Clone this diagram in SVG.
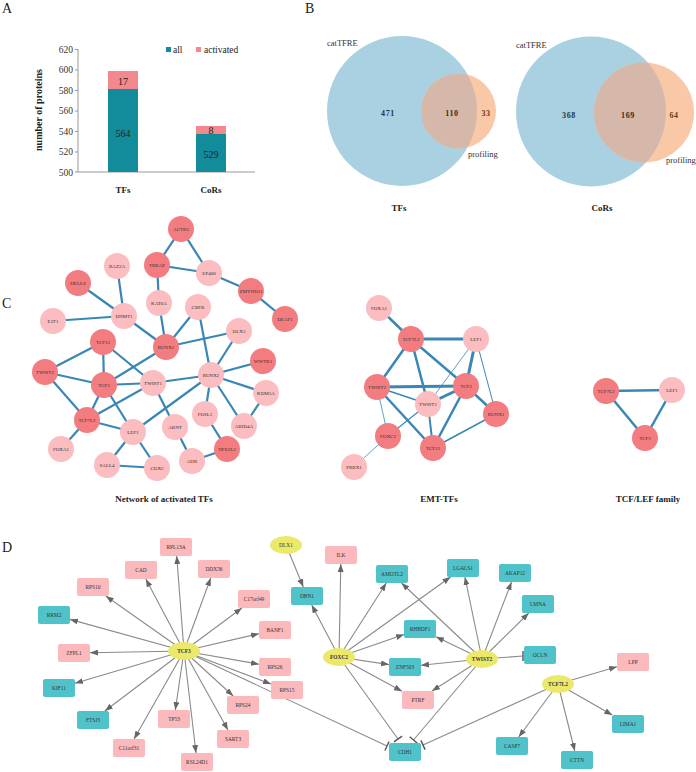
<svg xmlns="http://www.w3.org/2000/svg" width="696" height="772" viewBox="0 0 696 772">
<style>
text{font-family:"Liberation Serif","Times New Roman",serif;}
.pl{font-size:14px;fill:#222}
.tk{font-size:9.5px;fill:#333;text-anchor:end}
.bl{font-size:10px;fill:#222;text-anchor:middle}
.ttl{font-size:9px;font-weight:bold;fill:#222;text-anchor:middle}
.vn{font-size:8px;font-weight:bold;text-anchor:middle;letter-spacing:0.6px}
.vl{font-size:8.5px;fill:#333}
.ax{stroke:#999;stroke-width:1;fill:none}
.ce line{stroke:#3a87b7;stroke-linecap:round}
.nd{fill:#f27c80}
.nl{fill:#fbbdbf}
.cn text{font-size:5px;fill:#333;text-anchor:middle}
.dn text{font-size:5.4px;fill:#333;text-anchor:middle}
.dn .b{font-weight:bold}
.de line{stroke:#8a8a8a;stroke-width:1.1}
.de .a{marker-end:url(#arr)}
.de .t{stroke:#555;stroke-width:1.4}
.teal{fill:#50c3ca}
.pink{fill:#fcb9bc}
.yel{fill:#ece86c}
</style>
<defs>
<marker id="arr" viewBox="0 0 8 6" refX="8" refY="3" markerWidth="8" markerHeight="6" markerUnits="userSpaceOnUse" orient="auto">
<path d="M0,0 L8,3 L0,6 z" fill="#666"/>
</marker>
<clipPath id="cb1"><circle cx="402" cy="111" r="75"/></clipPath>
<clipPath id="cb2"><circle cx="591" cy="111.5" r="75"/></clipPath>
</defs>

<!-- Panel A -->
<g id="panelA">
<text class="pl" x="2" y="13">A</text>
<line class="ax" x1="78" y1="49" x2="78" y2="172"/>
<line class="ax" x1="78" y1="172" x2="255" y2="172"/>
<g class="ax">
<line x1="75" y1="49.5" x2="78" y2="49.5"/><line x1="75" y1="70" x2="78" y2="70"/><line x1="75" y1="90.5" x2="78" y2="90.5"/><line x1="75" y1="111" x2="78" y2="111"/><line x1="75" y1="131.5" x2="78" y2="131.5"/><line x1="75" y1="152" x2="78" y2="152"/><line x1="75" y1="172" x2="78" y2="172"/>
</g>
<text class="tk" x="73" y="53">620</text>
<text class="tk" x="73" y="73">600</text>
<text class="tk" x="73" y="94">580</text>
<text class="tk" x="73" y="114">560</text>
<text class="tk" x="73" y="135">540</text>
<text class="tk" x="73" y="155">520</text>
<text class="tk" x="73" y="175.5">500</text>
<text x="42" y="110" transform="rotate(-90 42 110)" style="font-size:10px;font-weight:bold;fill:#222;text-anchor:middle">number of proteins</text>
<rect x="108" y="89" width="30" height="83" fill="#128b9b"/>
<rect x="108" y="71" width="30" height="18" fill="#f4888f"/>
<rect x="196" y="134" width="30" height="38" fill="#128b9b"/>
<rect x="196" y="126" width="30" height="8" fill="#f4888f"/>
<text class="bl" x="123" y="85">17</text>
<text class="bl" x="123" y="137">564</text>
<text class="bl" x="211" y="134">8</text>
<text class="bl" x="211" y="158">529</text>
<rect x="166" y="47" width="5" height="5" fill="#128b9b"/>
<text x="173" y="53" style="font-size:9.5px;fill:#222">all</text>
<rect x="196" y="47" width="5" height="5" fill="#f4888f"/>
<text x="204" y="53" style="font-size:9.5px;fill:#222">activated</text>
<text class="ttl" x="123" y="193">TFs</text>
<text class="ttl" x="211" y="193">CoRs</text>
</g>

<!-- Panel B -->
<g id="panelB">
<text class="pl" x="305" y="13">B</text>
<circle cx="402" cy="111" r="75" fill="#a9d1e1"/>
<circle cx="458.5" cy="111" r="37.5" fill="#f9c8a7"/>
<circle cx="458.5" cy="111" r="37.5" fill="#d5b8aa" clip-path="url(#cb1)"/>
<text class="vl" x="327" y="46">catTFRE</text>
<text class="vn" x="388" y="116" fill="#243646">471</text>
<text class="vn" x="452" y="116" fill="#3a2a22">110</text>
<text class="vn" x="486" y="116" fill="#6b3a1a">33</text>
<text class="vl" x="468" y="157">profiling</text>
<text class="ttl" x="399" y="211">TFs</text>
<circle cx="591" cy="111.5" r="75" fill="#a9d1e1"/>
<circle cx="644" cy="112.5" r="50" fill="#f9c8a7"/>
<circle cx="644" cy="112.5" r="50" fill="#d5b8aa" clip-path="url(#cb2)"/>
<text class="vl" x="516" y="48">catTFRE</text>
<text class="vn" x="569" y="118" fill="#243646">368</text>
<text class="vn" x="628" y="118" fill="#3a2a22">169</text>
<text class="vn" x="674" y="118" fill="#6b3a1a">64</text>
<text class="vl" x="666" y="163">profiling</text>
<text class="ttl" x="602" y="211">CoRs</text>
</g>

<!-- Panel C -->
<text class="pl" x="2" y="308">C</text>
<g id="c-connectors" class="ce">
<g stroke-width="2.2">
<line x1="181" y1="229" x2="157" y2="265"/>
<line x1="181" y1="229" x2="209" y2="273"/>
<line x1="157" y1="265" x2="209" y2="273"/>
<line x1="157" y1="265" x2="159" y2="303"/>
<line x1="209" y1="273" x2="251" y2="291"/>
<line x1="251" y1="291" x2="285" y2="319"/>
<line x1="78" y1="283" x2="124" y2="316"/>
<line x1="117" y1="266" x2="124" y2="316"/>
<line x1="53" y1="321" x2="124" y2="316"/>
<line x1="124" y1="316" x2="166" y2="347"/>
<line x1="159" y1="303" x2="166" y2="347"/>
<line x1="198" y1="307" x2="166" y2="347"/>
<line x1="198" y1="307" x2="211" y2="375"/>
<line x1="239" y1="331" x2="166" y2="347"/>
<line x1="239" y1="331" x2="211" y2="375"/>
<line x1="263" y1="361" x2="211" y2="375"/>
<line x1="266" y1="393" x2="211" y2="375"/>
<line x1="266" y1="393" x2="244" y2="426"/>
<line x1="211" y1="375" x2="244" y2="426"/>
<line x1="211" y1="375" x2="205" y2="414"/>
<line x1="211" y1="375" x2="153" y2="383"/>
<line x1="211" y1="375" x2="133" y2="432"/>
<line x1="205" y1="414" x2="227" y2="449"/>
<line x1="227" y1="449" x2="192" y2="461"/>
<line x1="192" y1="461" x2="175" y2="427"/>
<line x1="175" y1="427" x2="153" y2="383"/>
<line x1="103" y1="342" x2="45" y2="372"/>
<line x1="103" y1="342" x2="104" y2="385"/>
<line x1="103" y1="342" x2="153" y2="383"/>
<line x1="45" y1="372" x2="104" y2="385"/>
<line x1="45" y1="372" x2="87" y2="420"/>
<line x1="104" y1="385" x2="153" y2="383"/>
<line x1="104" y1="385" x2="166" y2="347"/>
<line x1="104" y1="385" x2="87" y2="420"/>
<line x1="104" y1="385" x2="133" y2="432"/>
<line x1="87" y1="420" x2="153" y2="383"/>
<line x1="87" y1="420" x2="133" y2="432"/>
<line x1="87" y1="420" x2="61" y2="449"/>
<line x1="133" y1="432" x2="107" y2="465"/>
<line x1="133" y1="432" x2="157" y2="468"/>
<line x1="107" y1="465" x2="157" y2="468"/>
</g>
<line x1="379" y1="308" x2="411" y2="339" stroke-width="2.5"/>
<line x1="411" y1="339" x2="476" y2="339" stroke-width="3"/>
<line x1="411" y1="339" x2="377" y2="387" stroke-width="2.5"/>
<line x1="411" y1="339" x2="428" y2="404" stroke-width="2.5"/>
<line x1="411" y1="339" x2="466" y2="386" stroke-width="2.5"/>
<line x1="476" y1="339" x2="466" y2="386" stroke-width="3"/>
<line x1="476" y1="339" x2="428" y2="404" stroke-width="0.8"/>
<line x1="476" y1="339" x2="496" y2="414" stroke-width="1"/>
<line x1="377" y1="387" x2="466" y2="386" stroke-width="3"/>
<line x1="377" y1="387" x2="428" y2="404" stroke-width="1.5"/>
<line x1="377" y1="387" x2="388" y2="436" stroke-width="0.8"/>
<line x1="377" y1="387" x2="433" y2="448" stroke-width="2.5"/>
<line x1="466" y1="386" x2="428" y2="404" stroke-width="3"/>
<line x1="466" y1="386" x2="496" y2="414" stroke-width="2.5"/>
<line x1="466" y1="386" x2="433" y2="448" stroke-width="2.5"/>
<line x1="428" y1="404" x2="433" y2="448" stroke-width="2"/>
<line x1="428" y1="404" x2="388" y2="436" stroke-width="1.2"/>
<line x1="496" y1="414" x2="433" y2="448" stroke-width="1.5"/>
<line x1="388" y1="436" x2="354" y2="467" stroke-width="0.8"/>
<line x1="606" y1="391" x2="672" y2="390" stroke-width="2.5"/>
<line x1="606" y1="391" x2="645" y2="438" stroke-width="2.5"/>
<line x1="672" y1="390" x2="645" y2="438" stroke-width="2.5"/>
</g>

<g class="cn">
<g id="n-ACTR5"><circle class="nd" cx="181" cy="229" r="13"/><text x="181" y="230.8">ACTR5</text></g>
<g id="n-TRRAP"><circle class="nd" cx="157" cy="265" r="13"/><text x="157" y="266.8">TRRAP</text></g>
<g id="n-HELLS"><circle class="nd" cx="78" cy="283" r="13"/><text x="78" y="284.8">HELLS</text></g>
<g id="n-ZMYND11"><circle class="nd" cx="251" cy="291" r="13"/><text x="251" y="292.8">ZMYND11</text></g>
<g id="n-DEAF1"><circle class="nd" cx="285" cy="319" r="13"/><text x="285" y="320.8">DEAF1</text></g>
<g id="n-RUNX1"><circle class="nd" cx="166" cy="347" r="13"/><text x="166" y="348.8">RUNX1</text></g>
<g id="n-TCF12"><circle class="nd" cx="103" cy="342" r="13"/><text x="103" y="343.8">TCF12</text></g>
<g id="n-TWIST2"><circle class="nd" cx="45" cy="372" r="13"/><text x="45" y="373.8">TWIST2</text></g>
<g id="n-TCF3"><circle class="nd" cx="104" cy="385" r="13"/><text x="104" y="386.8">TCF3</text></g>
<g id="n-WWTR1"><circle class="nd" cx="263" cy="361" r="13"/><text x="263" y="362.8">WWTR1</text></g>
<g id="n-TCF7L2"><circle class="nd" cx="87" cy="420" r="13"/><text x="87" y="421.8">TCF7L2</text></g>
<g id="n-NFE2L2"><circle class="nd" cx="227" cy="449" r="13"/><text x="227" y="450.8">NFE2L2</text></g>
<g id="n-BAZ2A"><circle class="nl" cx="117" cy="266" r="13"/><text x="117" y="267.8">BAZ2A</text></g>
<g id="n-EP400"><circle class="nl" cx="209" cy="273" r="13"/><text x="209" y="274.8">EP400</text></g>
<g id="n-KAT6A"><circle class="nl" cx="159" cy="303" r="13"/><text x="159" y="304.8">KAT6A</text></g>
<g id="n-DNMT1"><circle class="nl" cx="124" cy="316" r="13"/><text x="124" y="317.8">DNMT1</text></g>
<g id="n-E2F1"><circle class="nl" cx="53" cy="321" r="13"/><text x="53" y="322.8">E2F1</text></g>
<g id="n-CBFB"><circle class="nl" cx="198" cy="307" r="13"/><text x="198" y="308.8">CBFB</text></g>
<g id="n-DLX5"><circle class="nl" cx="239" cy="331" r="13"/><text x="239" y="332.8">DLX5</text></g>
<g id="n-TWIST1"><circle class="nl" cx="153" cy="383" r="13"/><text x="153" y="384.8">TWIST1</text></g>
<g id="n-RUNX2"><circle class="nl" cx="211" cy="375" r="13"/><text x="211" y="376.8">RUNX2</text></g>
<g id="n-KDM5A"><circle class="nl" cx="266" cy="393" r="13"/><text x="266" y="394.8">KDM5A</text></g>
<g id="n-FOSL1"><circle class="nl" cx="205" cy="414" r="13"/><text x="205" y="415.8">FOSL1</text></g>
<g id="n-ARID4A"><circle class="nl" cx="244" cy="426" r="13"/><text x="244" y="427.8">ARID4A</text></g>
<g id="n-ARNT"><circle class="nl" cx="175" cy="427" r="13"/><text x="175" y="428.8">ARNT</text></g>
<g id="n-LEF1"><circle class="nl" cx="133" cy="432" r="13"/><text x="133" y="433.8">LEF1</text></g>
<g id="n-FOXA1"><circle class="nl" cx="61" cy="449" r="13"/><text x="61" y="450.8">FOXA1</text></g>
<g id="n-AHR"><circle class="nl" cx="192" cy="461" r="13"/><text x="192" y="462.8">AHR</text></g>
<g id="n-SALL4"><circle class="nl" cx="107" cy="465" r="13"/><text x="107" y="466.8">SALL4</text></g>
<g id="n-CDX2"><circle class="nl" cx="157" cy="468" r="13"/><text x="157" y="469.8">CDX2</text></g>

<g id="m-FOXA1"><circle class="nl" cx="379" cy="308" r="13"/><text x="379" y="309.8">FOXA1</text></g>
<g id="m-TCF7L2"><circle class="nd" cx="411" cy="339" r="13"/><text x="411" y="340.8">TCF7L2</text></g>
<g id="m-LEF1"><circle class="nl" cx="476" cy="339" r="13"/><text x="476" y="340.8">LEF1</text></g>
<g id="m-TWIST2"><circle class="nd" cx="377" cy="387" r="13"/><text x="377" y="388.8">TWIST2</text></g>
<g id="m-TCF3"><circle class="nd" cx="466" cy="386" r="13"/><text x="466" y="387.8">TCF3</text></g>
<g id="m-TWIST1"><circle class="nl" cx="428" cy="404" r="13"/><text x="428" y="405.8">TWIST1</text></g>
<g id="m-RUNX1"><circle class="nd" cx="496" cy="414" r="13"/><text x="496" y="415.8">RUNX1</text></g>
<g id="m-FOXC2"><circle class="nd" cx="388" cy="436" r="13"/><text x="388" y="437.8">FOXC2</text></g>
<g id="m-TCF12"><circle class="nd" cx="433" cy="448" r="13"/><text x="433" y="449.8">TCF12</text></g>
<g id="m-PRRX1"><circle class="nl" cx="354" cy="467" r="13"/><text x="354" y="468.8">PRRX1</text></g>

<g id="r-TCF7L2"><circle class="nd" cx="606" cy="391" r="13"/><text x="606" y="392.8">TCF7L2</text></g>
<g id="r-LEF1"><circle class="nl" cx="672" cy="390" r="13"/><text x="672" y="391.8">LEF1</text></g>
<g id="r-TCF3"><circle class="nd" cx="645" cy="438" r="13"/><text x="645" y="439.8">TCF3</text></g>
</g>
<text class="ttl" x="164" y="502">Network of activated TFs</text>
<text class="ttl" x="439" y="502">EMT-TFs</text>
<text class="ttl" x="648" y="502">TCF/LEF family</text>

<!-- Panel D -->
<text class="pl" x="2" y="552">D</text>
<g id="d-connectors" class="de">
<line class="a" x1="184" y1="651" x2="176.7" y2="556"/>
<line class="a" x1="184" y1="651" x2="145.8" y2="579"/>
<line class="a" x1="184" y1="651" x2="210.7" y2="578"/>
<line class="a" x1="184" y1="651" x2="105.8" y2="596"/>
<line class="a" x1="184" y1="651" x2="241.9" y2="608"/>
<line class="a" x1="184" y1="651" x2="70" y2="619.4"/>
<line class="a" x1="184" y1="651" x2="90" y2="652.7"/>
<line class="a" x1="184" y1="651" x2="75" y2="683.3"/>
<line class="a" x1="184" y1="651" x2="104.9" y2="711"/>
<line class="a" x1="184" y1="651" x2="134.1" y2="739"/>
<line class="a" x1="184" y1="651" x2="175.3" y2="710"/>
<line class="a" x1="184" y1="651" x2="196" y2="753"/>
<line class="a" x1="184" y1="651" x2="228" y2="730"/>
<line class="a" x1="184" y1="651" x2="233.2" y2="696"/>
<line class="a" x1="184" y1="651" x2="271" y2="684"/>
<line class="a" x1="184" y1="651" x2="259" y2="664.2"/>
<line class="a" x1="184" y1="651" x2="259" y2="633.7"/>
<line x1="184" y1="651" x2="387" y2="746"/>
<line class="t" x1="384.9" y1="750.5" x2="389.1" y2="741.5"/>
<line class="a" x1="286" y1="545" x2="303.3" y2="587"/>
<line class="a" x1="339" y1="657" x2="311.7" y2="605"/>
<line class="a" x1="339" y1="657" x2="340.8" y2="564"/>
<line class="a" x1="339" y1="657" x2="386.3" y2="583"/>
<line class="a" x1="339" y1="657" x2="450.5" y2="577"/>
<line class="a" x1="339" y1="657" x2="404" y2="634.5"/>
<line class="a" x1="339" y1="657" x2="389" y2="664.6"/>
<line class="a" x1="339" y1="657" x2="402" y2="691.3"/>
<line x1="339" y1="657" x2="398" y2="739"/>
<line class="t" x1="393.9" y1="741.9" x2="402.1" y2="736.1"/>
<line class="a" x1="482" y1="659" x2="401.5" y2="583"/>
<line class="a" x1="482" y1="659" x2="464.9" y2="577"/>
<line class="a" x1="482" y1="659" x2="511.5" y2="582"/>
<line class="a" x1="482" y1="659" x2="528.8" y2="613"/>
<line class="a" x1="482" y1="659" x2="436" y2="636.7"/>
<line class="a" x1="482" y1="659" x2="421" y2="665.3"/>
<line class="a" x1="482" y1="659" x2="432" y2="691"/>
<line x1="482" y1="659" x2="523" y2="656"/>
<line class="t" x1="523" y1="651" x2="523" y2="661"/>
<line x1="482" y1="659" x2="413.5" y2="740"/>
<line class="t" x1="409.7" y1="736.8" x2="417.3" y2="743.2"/>
<line class="a" x1="558" y1="684" x2="617" y2="666.7"/>
<line class="a" x1="558" y1="684" x2="612.3" y2="715"/>
<line class="a" x1="558" y1="684" x2="574.8" y2="751"/>
<line class="a" x1="558" y1="684" x2="518.7" y2="737"/>
<line x1="558" y1="684" x2="423" y2="745"/>
<line class="t" x1="420.9" y1="740.4" x2="425.1" y2="749.6"/>
</g>

<g class="dn">
<g id="d-RPL13A"><rect class="pink" x="160" y="538" width="32" height="18" rx="2"/><text x="176" y="549">RPL13A</text></g>
<g id="d-CAD"><rect class="pink" x="125" y="561" width="32" height="18" rx="2"/><text x="141" y="572">CAD</text></g>
<g id="d-DDX56"><rect class="pink" x="198" y="560" width="32" height="18" rx="2"/><text x="214" y="571">DDX56</text></g>
<g id="d-RPS10"><rect class="pink" x="77" y="578" width="32" height="18" rx="2"/><text x="93" y="589">RPS10</text></g>
<g id="d-C17orf49"><rect class="pink" x="238" y="590" width="32" height="18" rx="2"/><text x="254" y="601">C17orf49</text></g>
<g id="d-RRM2"><rect class="teal" x="38" y="606" width="32" height="18" rx="2"/><text x="54" y="617">RRM2</text></g>
<g id="d-ZFPL1"><rect class="pink" x="58" y="644" width="32" height="18" rx="2"/><text x="74" y="655">ZFPL1</text></g>
<g id="d-KIF11"><rect class="teal" x="43" y="679" width="32" height="18" rx="2"/><text x="59" y="690">KIF11</text></g>
<g id="d-FTSJ3"><rect class="teal" x="77" y="711" width="32" height="18" rx="2"/><text x="93" y="722">FTSJ3</text></g>
<g id="d-C11orf31"><rect class="pink" x="113" y="739" width="32" height="18" rx="2"/><text x="129" y="750">C11orf31</text></g>
<g id="d-TP53"><rect class="pink" x="158" y="710" width="32" height="18" rx="2"/><text x="174" y="721">TP53</text></g>
<g id="d-RSL24D1"><rect class="pink" x="181" y="753" width="32" height="18" rx="2"/><text x="197" y="764">RSL24D1</text></g>
<g id="d-SART3"><rect class="pink" x="217" y="730" width="32" height="18" rx="2"/><text x="233" y="741">SART3</text></g>
<g id="d-RPS24"><rect class="pink" x="227" y="696" width="32" height="18" rx="2"/><text x="243" y="707">RPS24</text></g>
<g id="d-RPS15"><rect class="pink" x="271" y="681" width="32" height="18" rx="2"/><text x="287" y="692">RPS15</text></g>
<g id="d-RPS26"><rect class="pink" x="259" y="658" width="32" height="18" rx="2"/><text x="275" y="669">RPS26</text></g>
<g id="d-BANF1"><rect class="pink" x="259" y="621" width="32" height="18" rx="2"/><text x="275" y="632">BANF1</text></g>
<g id="d-ILK"><rect class="pink" x="325" y="546" width="32" height="18" rx="2"/><text x="341" y="557">ILK</text></g>
<g id="d-DBN1"><rect class="teal" x="291" y="587" width="32" height="18" rx="2"/><text x="307" y="598">DBN1</text></g>
<g id="d-AMOTL2"><rect class="teal" x="376" y="565" width="32" height="18" rx="2"/><text x="392" y="576">AMOTL2</text></g>
<g id="d-LGALS1"><rect class="teal" x="447" y="559" width="32" height="18" rx="2"/><text x="463" y="570">LGALS1</text></g>
<g id="d-RHBDF1"><rect class="teal" x="404" y="620" width="32" height="18" rx="2"/><text x="420" y="631">RHBDF1</text></g>
<g id="d-ZNF503"><rect class="teal" x="389" y="658" width="32" height="18" rx="2"/><text x="405" y="669">ZNF503</text></g>
<g id="d-PTRF"><rect class="pink" x="402" y="691" width="32" height="18" rx="2"/><text x="418" y="702">PTRF</text></g>
<g id="d-CDH1"><rect class="teal" x="389" y="743" width="32" height="18" rx="2"/><text x="405" y="754">CDH1</text></g>
<g id="d-AKAP12"><rect class="teal" x="499" y="564" width="32" height="18" rx="2"/><text x="515" y="575">AKAP12</text></g>
<g id="d-LMNA"><rect class="teal" x="522" y="595" width="32" height="18" rx="2"/><text x="538" y="606">LMNA</text></g>
<g id="d-OCLN"><rect class="teal" x="524" y="646" width="32" height="18" rx="2"/><text x="540" y="657">OCLN</text></g>
<g id="d-LPP"><rect class="pink" x="617" y="653" width="32" height="18" rx="2"/><text x="633" y="664">LPP</text></g>
<g id="d-LIMA1"><rect class="teal" x="612" y="715" width="32" height="18" rx="2"/><text x="628" y="726">LIMA1</text></g>
<g id="d-CASP7"><rect class="teal" x="496" y="737" width="32" height="18" rx="2"/><text x="512" y="748">CASP7</text></g>
<g id="d-CTTN"><rect class="teal" x="561" y="751" width="32" height="18" rx="2"/><text x="577" y="762">CTTN</text></g>
<g id="d-TCF3"><ellipse class="yel" cx="184" cy="651" rx="16" ry="9"/><text class="b" x="184" y="653">TCF3</text></g>
<g id="d-DLX1"><ellipse class="yel" cx="286" cy="545" rx="16" ry="9"/><text x="286" y="547">DLX1</text></g>
<g id="d-FOXC2"><ellipse class="yel" cx="339" cy="657" rx="16" ry="9"/><text class="b" x="339" y="659">FOXC2</text></g>
<g id="d-TWIST2"><ellipse class="yel" cx="482" cy="659" rx="16" ry="9"/><text class="b" x="482" y="661">TWIST2</text></g>
<g id="d-TCF7L2"><ellipse class="yel" cx="558" cy="684" rx="16" ry="9"/><text class="b" x="558" y="686">TCF7L2</text></g>
</g>
</svg>
